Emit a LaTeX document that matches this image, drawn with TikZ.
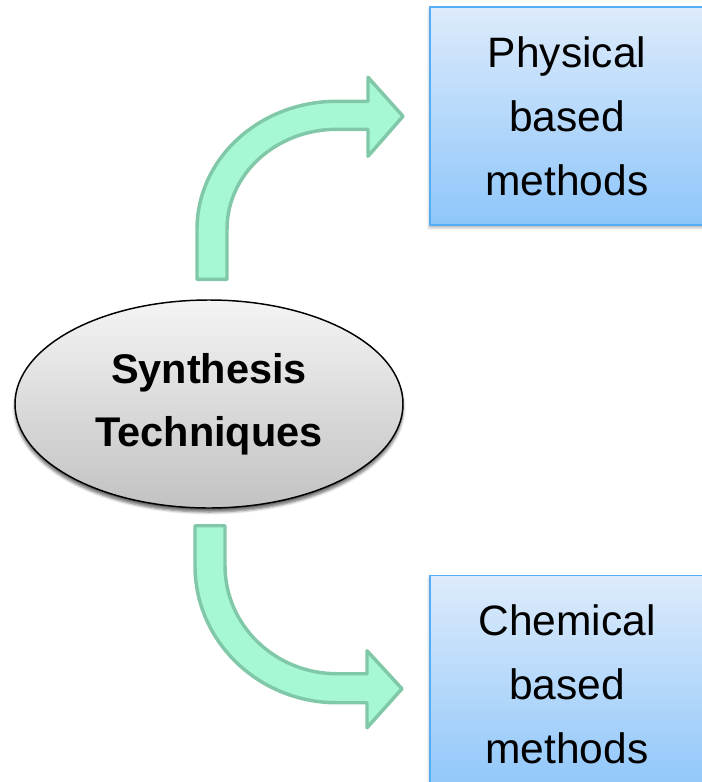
\documentclass[tikz,border=0pt]{standalone}
\usepackage{fontspec}
\setmainfont{Liberation Sans}
\usepackage{tikz}
\usetikzlibrary{positioning}
\usetikzlibrary{shapes.geometric,shadows.blur}

\definecolor{mintfill}{HTML}{A6F8D4}
\definecolor{mintline}{HTML}{80C8A8}
\definecolor{boxtop}{HTML}{DDEBFB}
\definecolor{boxbot}{HTML}{8EC6FA}
\definecolor{boxline}{HTML}{55ADF5}
\definecolor{ovaltop}{HTML}{F4F4F4}
\definecolor{ovalbot}{HTML}{C2C2C2}

\tikzset{
  methodbox/.style={draw=boxline, line width=1.2pt, top color=boxtop, bottom color=boxbot,
    minimum width=205.5pt, minimum height=163.5pt, inner sep=0pt, align=center,
    font=\fontsize{31.9}{48}\selectfont,
    blur shadow={shadow xshift=-0.5pt, shadow yshift=-2pt, shadow opacity=30, shadow blur steps=4}},
  techoval/.style={ellipse, draw=black, line width=1.1pt, top color=ovaltop, bottom color=ovalbot,
    minimum width=291pt, minimum height=156pt, inner sep=0pt, align=center,
    font=\fontsize{31.1}{47}\selectfont\bfseries,
    blur shadow={shadow xshift=0pt, shadow yshift=-3pt, shadow opacity=60, shadow blur steps=5}},
  bentarrow/.style={fill=mintfill, draw=mintline, line width=2.6pt, line join=round}
}

\begin{document}
\begin{tikzpicture}[x=0.75pt, y=-0.75pt]
      \useasboundingbox (0,0) rectangle (702,782);
      \node[methodbox] (phys) at (567,116) {Physical\\based\\methods};
      \node[methodbox, below=261.75pt of phys] (chem) {Chemical\\based\\methods};
      \node[techoval] (synth) at (209,404) {Synthesis\\Techniques};
      % upper bent arrow
      \coordinate (upstart) at ([xshift=-9pt,yshift=15pt]synth.north);
      \draw[bentarrow] (upstart) -- ++(0,-50)
        .. controls +(0,-70.7) and +(-77.3,0) .. ++(140,-128)
        -- ++(31,0) -- ++(0,-24) -- ++(35,39) -- ++(-35,40) -- ++(0,-27) -- ++(-31,0)
        .. controls +(-60.8,0) and +(0,-55.2) .. ++(-110,100)
        -- ++(0,50) -- cycle;
      % lower bent arrow
      \coordinate (downstart) at ([xshift=-10.5pt,yshift=-12.75pt]synth.south);
      \draw[bentarrow] (downstart) -- ++(0,40)
        .. controls +(0,75.7) and +(-78.4,0) .. ++(142,137)
        -- ++(30,0) -- ++(0,25) -- ++(35,-39) -- ++(-35,-38) -- ++(0,23) -- ++(-30,0)
        .. controls +(-61.9,0) and +(0,59.6) .. ++(-112,-108)
        -- ++(0,-40) -- cycle;
\end{tikzpicture}
\end{document}
